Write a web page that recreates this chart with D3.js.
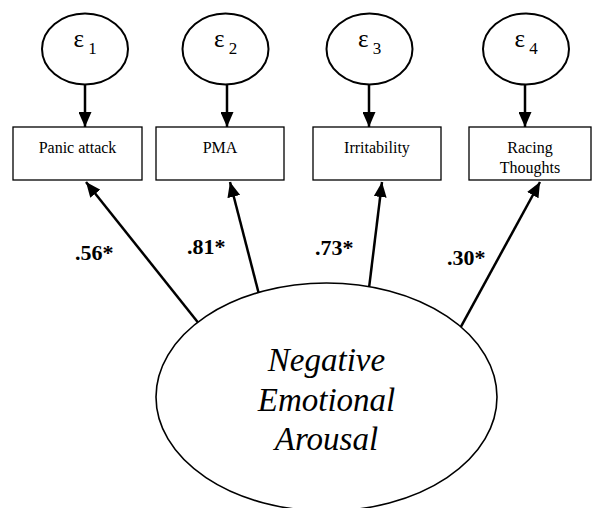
<!DOCTYPE html>
<html>
<head>
<meta charset="utf-8">
<script src="https://cdn.jsdelivr.net/npm/d3@7"></script>
<style>
  html, body { margin: 0; padding: 0; background: #fff; }
  svg { display: block; }
  svg text { font-family: "Liberation Serif", "Times New Roman", Times, serif; }
</style>
</head>
<body>
<svg id="chart" width="592" height="508"></svg>
<script>
// ---- data ----
const indicators = ["Panic attack", "PMA", "Irritability", "Racing Thoughts"];
const indicatorLines = [["Panic attack"], ["PMA"], ["Irritability"], ["Racing", "Thoughts"]];
const errorTerms = ["1", "2", "3", "4"];
const loadings = [0.56, 0.81, 0.73, 0.30];
const significant = [true, true, true, true];
const latentLines = ["Negative", "Emotional", "Arousal"];

// ---- layout (scales) ----
const svg = d3.select("#chart");

const errX = d3.scaleOrdinal().domain(indicators).range([85, 225.5, 369.5, 526]);
const errArrowX = d3.scaleOrdinal().domain(indicators).range([85, 227, 369, 525]);
const boxX = d3.scaleOrdinal().domain(indicators).range([77.5, 220, 377, 530]);
const boxW = d3.scaleOrdinal().domain(indicators).range([129, 128, 128, 122]);
const tipX = d3.scaleOrdinal().domain(indicators).range([86, 230, 382, 540]);
const startAngle = d3.scaleOrdinal().domain(indicators).range([221, 246.5, 284.5, 322]);
const labelPos = d3.scaleOrdinal().domain(indicators).range([[75, 260], [187, 254], [315, 255], [447, 265]]);

const errY = 49, errRx = 43, errRy = 35.5;
const boxTop = 127, boxBottom = 180;
const big = { cx: 326.5, cy: 397, rx: 170.5, ry: 114 };

const fmt = v => d3.format(".2f")(v).replace(/^0/, "");

// arrow marker
const defs = svg.append("defs");
defs.append("marker")
  .attr("id", "head")
  .attr("markerUnits", "userSpaceOnUse")
  .attr("viewBox", "0 0 15 13")
  .attr("refX", 15).attr("refY", 6.5)
  .attr("markerWidth", 15).attr("markerHeight", 13)
  .attr("orient", "auto")
  .append("path").attr("d", "M0,0 L15,6.5 L0,13 Z").attr("fill", "#000");

// error ellipses
const err = svg.append("g").selectAll("g").data(indicators).join("g");
err.append("ellipse")
  .attr("cx", d => errX(d)).attr("cy", errY)
  .attr("rx", errRx).attr("ry", errRy)
  .attr("fill", "#fff").attr("stroke", "#000").attr("stroke-width", 2);
const et = err.append("text")
  .attr("x", d => errX(d)).attr("y", errY - 2)
  .attr("text-anchor", "middle")
  .attr("font-size", 25).attr("fill", "#000");
et.append("tspan").text("ε");
et.append("tspan").attr("font-size", 17).attr("dy", 7).text((d, i) => "\u00a0" + errorTerms[i]);

// error -> indicator arrows
err.append("line")
  .attr("x1", d => errArrowX(d)).attr("y1", errY + errRy)
  .attr("x2", d => errArrowX(d)).attr("y2", boxTop)
  .attr("stroke", "#000").attr("stroke-width", 2.5)
  .attr("marker-end", "url(#head)");

// indicator boxes
const box = svg.append("g").selectAll("g").data(indicators).join("g");
box.append("rect")
  .attr("x", d => boxX(d) - boxW(d) / 2).attr("y", boxTop)
  .attr("width", d => boxW(d)).attr("height", boxBottom - boxTop)
  .attr("fill", "#fff").attr("stroke", "#000").attr("stroke-width", 1.3);
box.each(function (d, i) {
  const t = d3.select(this).append("text")
    .attr("text-anchor", "middle")
    .attr("font-size", 16).attr("fill", "#000");
  indicatorLines[i].forEach((ln, j) => {
    t.append("tspan").attr("x", boxX(d)).attr("y", 153 + j * 20).text(ln);
  });
});

// latent -> indicator arrows
svg.append("g").selectAll("line").data(indicators).join("line")
  .attr("x1", d => big.cx + big.rx * Math.cos(startAngle(d) * Math.PI / 180))
  .attr("y1", d => big.cy + big.ry * Math.sin(startAngle(d) * Math.PI / 180))
  .attr("x2", d => tipX(d)).attr("y2", boxBottom + 2)
  .attr("stroke", "#000").attr("stroke-width", 2.5)
  .attr("marker-end", "url(#head)");

// loading labels
svg.append("g").selectAll("text").data(indicators).join("text")
  .attr("x", d => labelPos(d)[0]).attr("y", d => labelPos(d)[1])
  .attr("font-size", 22).attr("font-weight", "bold").attr("fill", "#000")
  .text((d, i) => fmt(loadings[i]) + (significant[i] ? "*" : ""));

// latent ellipse
svg.append("ellipse")
  .attr("cx", big.cx).attr("cy", big.cy).attr("rx", big.rx).attr("ry", big.ry)
  .attr("fill", "#fff").attr("stroke", "#000").attr("stroke-width", 1.6);

svg.append("text")
  .attr("text-anchor", "middle")
  .attr("font-size", 33).attr("font-style", "italic").attr("fill", "#000")
  .selectAll("tspan").data(latentLines).join("tspan")
  .attr("x", big.cx).attr("y", (d, i) => 371 + i * 39.5)
  .text(d => d);
</script>
</body>
</html>
